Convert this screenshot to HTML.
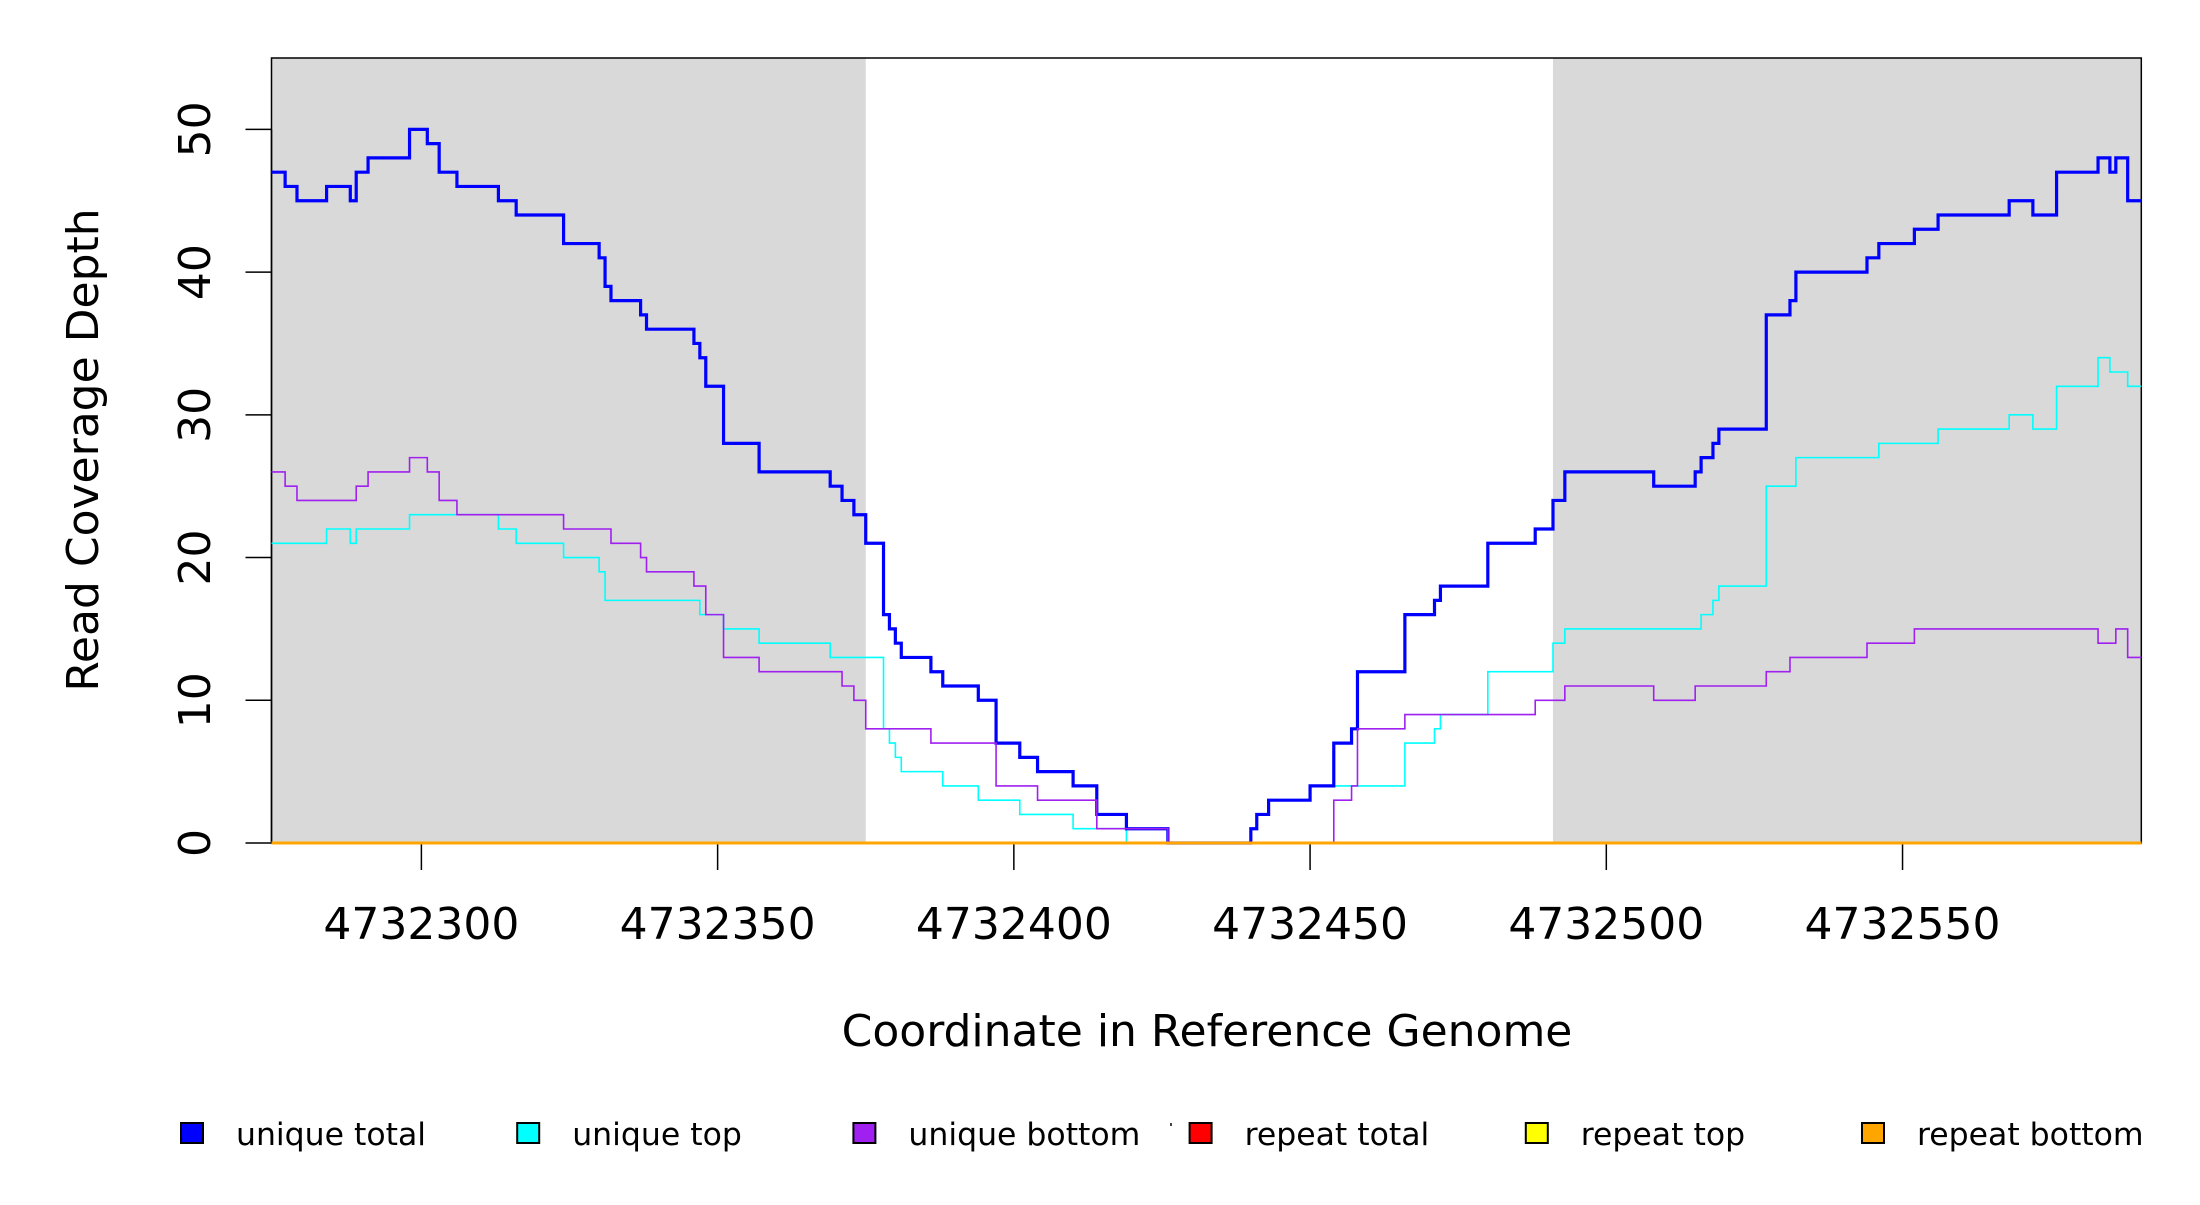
<!DOCTYPE html>
<html><head><meta charset="utf-8"><style>
html,body{margin:0;padding:0;background:#fff;}
svg text{font-family:"DejaVu Sans","Liberation Sans",sans-serif;fill:#000;}
</style></head><body>
<svg id="chart" width="2200" height="1200" viewBox="0 0 2200 1200" xmlns="http://www.w3.org/2000/svg">
<defs><clipPath id="plotclip"><rect x="271.5" y="58" width="1869.8" height="788"/></clipPath></defs>
<g id="bg"></g>
<rect x="271.5" y="58" width="1869.8" height="785" fill="none" stroke="#000" stroke-width="1.5"/>
<g id="yaxis"></g>
<g id="xaxis"></g>
<g id="series" clip-path="url(#plotclip)"></g>
<text transform="translate(98,450) rotate(-90)" text-anchor="middle" font-size="44">Read Coverage Depth</text>
<text x="1207" y="1046" text-anchor="middle" font-size="44">Coordinate in Reference Genome</text>
<g id="legend"></g>
<rect x="1170" y="1123" width="2" height="3" fill="#444"/>
</svg>
<script>
const yTicks = [0,10,20,30,40,50];
const xTicks = [4732300,4732350,4732400,4732450,4732500,4732550];
const shadedRegions = [[4732274.7,4732375],[4732491,4732590.3]];
const totalPos = [4732275,4732277,4732279,4732284,4732288,4732289,4732291,4732298,4732301,4732303,4732306,4732313,4732316,4732324,4732330,4732331,4732332,4732337,4732338,4732346,4732347,4732348,4732351,4732357,4732369,4732371,4732373,4732375,4732378,4732379,4732380,4732381,4732386,4732388,4732394,4732397,4732401,4732404,4732410,4732414,4732419,4732426,4732440,4732441,4732443,4732450,4732454,4732457,4732458,4732466,4732471,4732472,4732480,4732488,4732491,4732493,4732508,4732515,4732516,4732518,4732519,4732527,4732531,4732532,4732544,4732546,4732552,4732556,4732568,4732572,4732576,4732583,4732585,4732586,4732588];
const totalVals = [47,46,45,46,45,47,48,50,49,47,46,45,44,42,41,39,38,37,36,35,34,32,28,26,25,24,23,21,16,15,14,13,12,11,10,7,6,5,4,2,1,0,1,2,3,4,7,8,12,16,17,18,21,22,24,26,25,26,27,28,29,37,38,40,41,42,43,44,45,44,47,48,47,48,45];
const topPos = [4732275,4732284,4732288,4732289,4732298,4732313,4732316,4732324,4732330,4732331,4732347,4732351,4732357,4732369,4732378,4732379,4732380,4732381,4732388,4732394,4732401,4732410,4732419,4732440,4732441,4732443,4732450,4732466,4732471,4732472,4732480,4732491,4732493,4732516,4732518,4732519,4732527,4732532,4732546,4732556,4732568,4732572,4732576,4732583,4732585,4732588];
const topVals = [21,22,21,22,23,22,21,20,19,17,16,15,14,13,8,7,6,5,4,3,2,1,0,1,2,3,4,7,8,9,12,14,15,16,17,18,25,27,28,29,30,29,32,34,33,32];
const bottomPos = [4732275,4732277,4732279,4732289,4732291,4732298,4732301,4732303,4732306,4732324,4732332,4732337,4732338,4732346,4732348,4732351,4732357,4732371,4732373,4732375,4732386,4732397,4732404,4732414,4732426,4732454,4732457,4732458,4732466,4732488,4732493,4732508,4732515,4732527,4732531,4732544,4732552,4732583,4732586,4732588];
const bottomVals = [26,25,24,25,26,27,26,24,23,22,21,20,19,18,16,13,12,11,10,8,7,4,3,1,0,3,4,8,9,10,11,10,11,12,13,14,15,14,15,13];
const repeatPos = [4732275];
const repeatTotalVals = [0];
const repeatTopVals = [0];
const repeatBottomVals = [0];
const legendLabels = ["unique total","unique top","unique bottom","repeat total","repeat top","repeat bottom"];
const legendColors = ["#0000ff","#00ffff","#a020f0","#ff0000","#ffff00","#ffa500"];

const X0=271.5,X1=2141.3,Y0=843,Y1=58;
const xMin=4732274.7,xMax=4732590.3,yMin=0,yMax=55;
const xs=v=>X0+(v-xMin)/(xMax-xMin)*(X1-X0);
const ys=v=>Y0-(v-yMin)/(yMax-yMin)*(Y0-Y1);
const NS="http://www.w3.org/2000/svg";
function mk(tag,attrs,parent){const e=document.createElementNS(NS,tag);for(const k in attrs)e.setAttribute(k,attrs[k]);parent.appendChild(e);return e;}

const bg=document.getElementById('bg');
shadedRegions.forEach(r=>{
  const e=mk('rect',{x:xs(r[0]),y:Y1,width:xs(r[1])-xs(r[0]),height:Y0-Y1,fill:'#d9d9d9'},bg);
  
  
});

function stepPath(pos,vals){
  let d='M'+xs(xMin-1)+' '+ys(vals[0]);
  for(let i=1;i<pos.length;i++){d+=' H'+xs(pos[i])+' V'+ys(vals[i]);}
  d+=' H'+(X1+5);
  return d;
}
const series=document.getElementById('series');
const specs=[
 ['line-repeat-total',repeatPos,repeatTotalVals,'#ff0000',3],
 ['line-repeat-top',repeatPos,repeatTopVals,'#ffff00',3],
 ['line-unique-top',topPos,topVals,'#00ffff',1.6],
 ['line-unique-total',totalPos,totalVals,'#0000ff',3.2],
 ['line-unique-bottom',bottomPos,bottomVals,'#a020f0',1.6],
 ['line-repeat-bottom',repeatPos,repeatBottomVals,'#ffa500',3]
];
specs.forEach(s=>{
  const p=mk('path',{d:stepPath(s[1],s[2]),fill:'none',stroke:s[3],'stroke-width':s[4]},series);
  
  
});

const ya=document.getElementById('yaxis');
mk('line',{x1:X0,x2:X0,y1:ys(0),y2:ys(50),stroke:'#000','stroke-width':1.5},ya);
yTicks.forEach(t=>{
  const l=mk('line',{x1:X0-26,x2:X0,y1:ys(t),y2:ys(t),stroke:'#000','stroke-width':1.5},ya);
  
  
  const tx=mk('text',{transform:'translate(210,'+ys(t)+') rotate(-90)','text-anchor':'middle','font-size':44},ya);
  tx.textContent=t;
  
  
});
const xa=document.getElementById('xaxis');
mk('line',{x1:xs(xTicks[0]),x2:xs(xTicks[xTicks.length-1]),y1:Y0,y2:Y0,stroke:'#000','stroke-width':1.5},xa);
xTicks.forEach(t=>{
  const l=mk('line',{x1:xs(t),x2:xs(t),y1:Y0,y2:Y0+27,stroke:'#000','stroke-width':1.5},xa);
  
  
  const tx=mk('text',{x:xs(t),y:939,'text-anchor':'middle','font-size':44},xa);
  tx.textContent=t;
  
  
});

const lg=document.getElementById('legend');
legendLabels.forEach((lab,i)=>{
  const cx=192+i*336.2;
  const g=mk('g',{},lg);
  
  
  mk('rect',{x:cx-11,y:1123,width:22,height:20,fill:legendColors[i],stroke:'#000','stroke-width':2},g);
  const tx=mk('text',{x:cx+44,y:1145,'font-size':31.5},g);
  tx.textContent=lab;
});
</script>
</body></html>
